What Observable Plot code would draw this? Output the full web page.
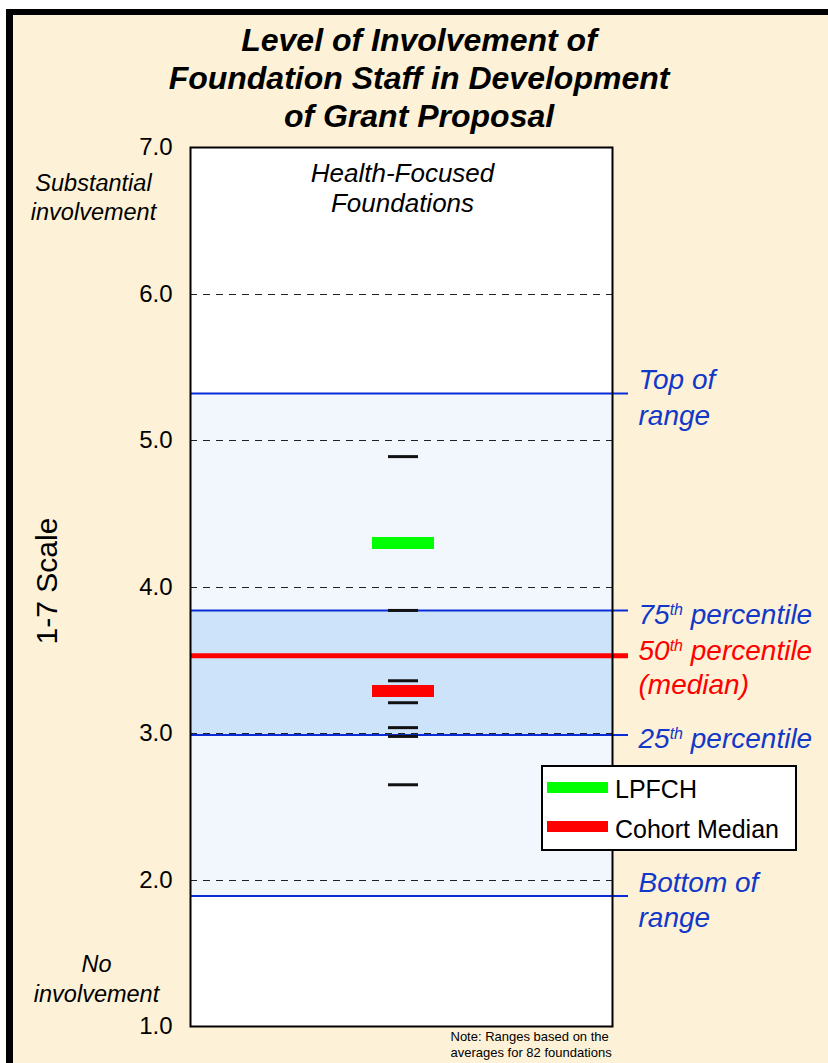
<!DOCTYPE html>
<html>
<head>
<meta charset="utf-8">
<script src="https://cdn.jsdelivr.net/npm/d3@7"></script>
<script src="https://cdn.jsdelivr.net/npm/@observablehq/plot@0.6"></script>
<style>
  html, body { margin: 0; padding: 0; background: #fff; }
  #page { position: relative; width: 828px; height: 1063px; overflow: hidden; background: #fff;
          font-family: "Liberation Sans", Arial, sans-serif; }
  #frame { position: absolute; left: 6px; top: 9px; width: 900px; height: 1200px;
           background: #FDF2D7; border-left: 7px solid #000; border-top: 6px solid #000; }
  #title { position: absolute; left: 0; top: 21px; width: 838px; text-align: center;
           font-size: 32px; line-height: 38px; font-weight: bold; font-style: italic;
           color: #000; }
  #chart { position: absolute; left: 0; top: 135px; }
  #legend { position: absolute; left: 541px; top: 765px; width: 252px; height: 82px;
            border: 2px solid #000; background: #fff; }
  #legend .sw { position: absolute; left: 4px; width: 61px; height: 11px; }
  #legend .lb { position: absolute; left: 72px; font-size: 25px; line-height: 25px; color: #000; white-space: nowrap; }
</style>
</head>
<body>
<div id="page">
  <div id="frame"></div>
  <div id="title">Level of Involvement of<br>Foundation Staff in Development<br>of Grant Proposal</div>
  <div id="chart"></div>
  <div id="legend"></div>
</div>
<script>
// ---- data ----
const yTickValues = [1, 2, 3, 4, 5, 6, 7];
const gridValues = [2, 3, 4, 5, 6];
const foundationAverages = [4.89, 3.84, 3.36, 3.21, 3.04, 2.98, 2.65];
const lpfchValue = [4.30];
const cohortMedianValue = [3.29];
const rangeLabels = ["Top of\nrange", "75th percentile", "25th percentile", "Bottom of\nrange"];
const rangeValues = [5.32, 3.84, 2.99, 1.89];
const medianLabel = ["50th percentile\n(median)"];
const medianValue = [3.53];
const legendNames = ["LPFCH", "Cohort Median"];
const legendColors = ["#00FF00", "#FF0000"];

// bands built from the range values
const bands = [
  {lo: rangeValues[3], hi: rangeValues[0], fill: "#F2F7FE"},
  {lo: rangeValues[2], hi: rangeValues[1], fill: "#CCE3FA"}
];

const blue = "#0A2CD6";
const blueText = "#1238C8";
const red = "#FF0000";

const chart = Plot.plot({
  width: 828,
  height: 928,
  marginLeft: 190,
  marginRight: 216,
  marginTop: 12,
  marginBottom: 37,
  y: {domain: [1, 7]},
  style: {fontFamily: "'Liberation Sans', Arial, sans-serif", background: "transparent", overflow: "visible", color: "#000"},
  marks: [
    Plot.frame({fill: "white"}),
    Plot.rect(bands, {y1: "lo", y2: "hi", fill: "fill"}),
    Plot.ruleY(gridValues, {stroke: "#222", strokeWidth: 1, strokeDasharray: "7,6", shapeRendering: "crispEdges"}),
    Plot.ruleY(rangeValues, {stroke: blue, strokeWidth: 2, insetRight: -16}),
    Plot.ruleY(medianValue, {stroke: red, strokeWidth: 5, insetRight: -16}),
    Plot.ruleY(foundationAverages, {stroke: "#111", strokeWidth: 3, insetLeft: 198, insetRight: 194}),
    Plot.ruleY(lpfchValue, {stroke: legendColors[0], strokeWidth: 12, insetLeft: 182, insetRight: 178}),
    Plot.ruleY(cohortMedianValue, {stroke: legendColors[1], strokeWidth: 12, insetLeft: 182, insetRight: 178}),
    Plot.frame({stroke: "#000", strokeWidth: 2}),
    Plot.axisY(yTickValues, {tickFormat: d3.format(".1f"), tickSize: 0, tickPadding: 18, fontSize: 24, label: null}),
    Plot.text(["1-7 Scale"], {frameAnchor: "left", dx: -143, dy: -6, rotate: -90, fontSize: 30, textAnchor: "middle", lineAnchor: "middle"}),
    Plot.text(["Substantial\ninvolvement"], {frameAnchor: "top-left", dx: -97, dy: 49, fontSize: 23.5, fontStyle: "italic", lineHeight: 1.2, textAnchor: "middle", lineAnchor: "middle"}),
    Plot.text(["No\ninvolvement"], {frameAnchor: "bottom-left", dx: -94, dy: -49, fontSize: 23.5, fontStyle: "italic", lineHeight: 1.25, textAnchor: "middle", lineAnchor: "middle"}),
    Plot.text(["Health-Focused\nFoundations"], {frameAnchor: "top", dx: 1, dy: 40, fontSize: 26, fontStyle: "italic", lineHeight: 1.15, textAnchor: "middle", lineAnchor: "middle"}),
    Plot.text(rangeValues, {y: d => d, text: (d, i) => rangeLabels[i], frameAnchor: "right", dx: 26, dy: 2, fill: blueText, fontSize: 28, fontStyle: "italic", lineHeight: 1.28, textAnchor: "start", lineAnchor: "middle"}),
    Plot.text(medianValue, {y: d => d, text: (d, i) => medianLabel[i], frameAnchor: "right", dx: 26, dy: 10, fill: red, fontSize: 28, fontStyle: "italic", lineHeight: 1.21, textAnchor: "start", lineAnchor: "middle"}),
    Plot.text(["Note: Ranges based on the\naverages for 82 foundations"], {frameAnchor: "bottom-right", dx: -162, dy: 17, fontSize: 13, lineHeight: 1.23, textAnchor: "start", lineAnchor: "middle"})
  ]
});
document.getElementById("chart").appendChild(chart);

// superscript the ordinal suffixes ("75th" -> 75 + raised "th")
const NS = "http://www.w3.org/2000/svg";
chart.querySelectorAll("text, tspan").forEach(el => {
  if (el.childNodes.length !== 1 || el.firstChild.nodeType !== 3) return;
  const m = el.textContent.match(/^(\d+)th (.*)$/);
  if (!m) return;
  el.textContent = "";
  const a = document.createElementNS(NS, "tspan"); a.textContent = m[1];
  const b = document.createElementNS(NS, "tspan"); b.textContent = "th";
  b.setAttribute("font-size", "16"); b.setAttribute("dy", "-9");
  const c = document.createElementNS(NS, "tspan"); c.textContent = " " + m[2];
  c.setAttribute("dy", "9");
  el.appendChild(a); el.appendChild(b); el.appendChild(c);
});

// legend
const legend = d3.select("#legend");
legendNames.forEach((name, i) => {
  legend.append("div").attr("class", "sw")
    .style("top", (15 + i * 39) + "px").style("background", legendColors[i]);
  legend.append("div").attr("class", "lb")
    .style("top", (10 + i * 40) + "px").text(name);
});
</script>
</body>
</html>
